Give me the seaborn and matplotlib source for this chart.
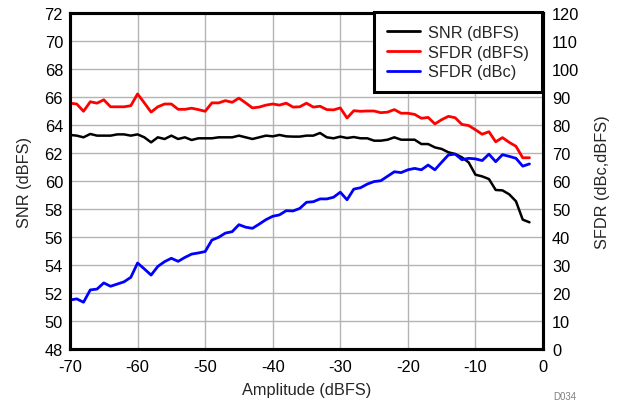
import numpy as np
import pandas as pd
import matplotlib
matplotlib.use("Agg")
import matplotlib.pyplot as plt
import seaborn as sns

amplitude = list(range(-70, -1))  # -70 ... -2 dBFS

snr_dbfs = [63.29, 63.24, 63.12, 63.36, 63.24, 63.24, 63.24, 63.33, 63.33, 63.24,
            63.33, 63.12, 62.76, 63.12, 63.00, 63.24, 63.00, 63.12, 62.93, 63.05,
            63.05, 63.05, 63.12, 63.12, 63.12, 63.24, 63.12, 63.00, 63.12, 63.24,
            63.19, 63.29, 63.19, 63.17, 63.17, 63.24, 63.24, 63.43, 63.12, 63.05,
            63.17, 63.07, 63.14, 63.05, 63.05, 62.88, 62.88, 62.95, 63.12, 62.95,
            62.95, 62.95, 62.64, 62.64, 62.40, 62.29, 62.05, 61.93, 61.69, 61.33,
            60.45, 60.33, 60.14, 59.36, 59.33, 59.05, 58.55, 57.24, 57.05]

sfdr_dbfs = [87.8, 87.5, 84.9, 88.3, 87.8, 89.0, 86.5, 86.5, 86.5, 86.9,
             91.1, 87.9, 84.6, 86.5, 87.5, 87.5, 85.6, 85.6, 86.0, 85.5,
             84.9, 87.9, 87.9, 88.7, 88.1, 89.6, 87.9, 86.1, 86.4, 87.1,
             87.5, 87.1, 87.8, 86.4, 86.5, 87.8, 86.4, 86.7, 85.5, 85.4,
             86.1, 82.5, 85.1, 84.9, 85.0, 85.0, 84.4, 84.6, 85.5, 84.2,
             84.2, 83.8, 82.4, 82.7, 80.4, 81.9, 83.1, 82.6, 80.2, 79.8,
             78.3, 76.7, 77.6, 74.0, 75.5, 73.8, 72.4, 68.3, 68.3]

sfdr_dbc = [17.5, 17.9, 16.7, 21.1, 21.4, 23.6, 22.4, 23.2, 24.0, 25.6,
            30.7, 28.6, 26.4, 29.5, 31.2, 32.4, 31.3, 32.7, 33.9, 34.3,
            34.8, 38.9, 39.9, 41.4, 41.9, 44.4, 43.5, 43.1, 44.6, 46.2,
            47.4, 47.9, 49.4, 49.3, 50.2, 52.4, 52.6, 53.6, 53.6, 54.2,
            56.0, 53.3, 57.1, 57.6, 58.9, 59.8, 60.1, 61.7, 63.3, 63.0,
            64.0, 64.5, 64.0, 65.7, 64.0, 66.7, 69.3, 69.6, 67.6, 68.1,
            67.9, 67.3, 69.6, 66.9, 69.4, 68.8, 68.1, 65.3, 66.1]

left_ticks = list(range(48, 73, 2))
right_ticks = list(range(0, 121, 10))
x_ticks = list(range(-70, 1, 10))

df = pd.DataFrame({"amp": amplitude, "snr": snr_dbfs,
                   "sfdr_dbfs": sfdr_dbfs, "sfdr_dbc": sfdr_dbc})

sns.set_style("white")
plt.rcParams["font.family"] = ["Liberation Sans", "DejaVu Sans"]
plt.rcParams["axes.unicode_minus"] = False

fig = plt.figure(figsize=(6.2, 4.02), dpi=100)
ax = fig.add_axes([70 / 620, 1 - 350 / 402, 473 / 620, 336 / 402])
ax2 = ax.twinx()

sns.lineplot(data=df, x="amp", y="snr", ax=ax, color="black", linewidth=1.8,
             label="SNR (dBFS)", legend=False)
sns.lineplot(data=df, x="amp", y="sfdr_dbfs", ax=ax2, color="#ff0000", linewidth=2.0,
             label="SFDR (dBFS)", legend=False)
sns.lineplot(data=df, x="amp", y="sfdr_dbc", ax=ax2, color="#0000ff", linewidth=2.0,
             label="SFDR (dBc)", legend=False)

ax.set_xlim(-70, 0)
ax.set_ylim(48, 72)
ax2.set_ylim(0, 120)
ax.set_xticks(x_ticks)
ax.set_yticks(left_ticks)
ax2.set_yticks(right_ticks)

ax.grid(True, color="#b4b4b4", linewidth=1.0)
ax.set_axisbelow(True)

fs = 11.8
ax.tick_params(axis="x", length=0, labelsize=fs, pad=7, colors="black")
ax.tick_params(axis="y", length=0, labelsize=fs, pad=5, colors="black")
ax2.tick_params(axis="y", length=0, labelsize=fs, pad=6.5, colors="black")

ax.set_xlabel("Amplitude (dBFS)", fontsize=fs, labelpad=6)
ax.set_ylabel("SNR (dBFS)", fontsize=fs, labelpad=9)
ax2.set_ylabel("SFDR (dBc,dBFS)", fontsize=fs, labelpad=11)

for a in (ax, ax2):
    for side in ("left", "right", "bottom", "top"):
        a.spines[side].set_visible(True)
        a.spines[side].set_color("black")
        a.spines[side].set_linewidth(2.2)

h1, l1 = ax.get_legend_handles_labels()
h2, l2 = ax2.get_legend_handles_labels()
leg = ax2.legend(h1 + h2, l1 + l2, loc="upper right", bbox_to_anchor=(0.998, 1.003),
                 fontsize=fs, frameon=True, fancybox=False, borderaxespad=0,
                 handlelength=2.0, handletextpad=0.5, labelspacing=0.28,
                 borderpad=0.8)
leg.get_frame().set_edgecolor("black")
leg.get_frame().set_linewidth(2.2)
leg.get_frame().set_alpha(1.0)
for ln in leg.get_lines():
    ln.set_linewidth(2.0)

fig.text(553 / 620, 1 - 397 / 402, "D034", fontsize=7, color="#808080",
         ha="left", va="center")

fig.savefig("out.png", dpi=100)
